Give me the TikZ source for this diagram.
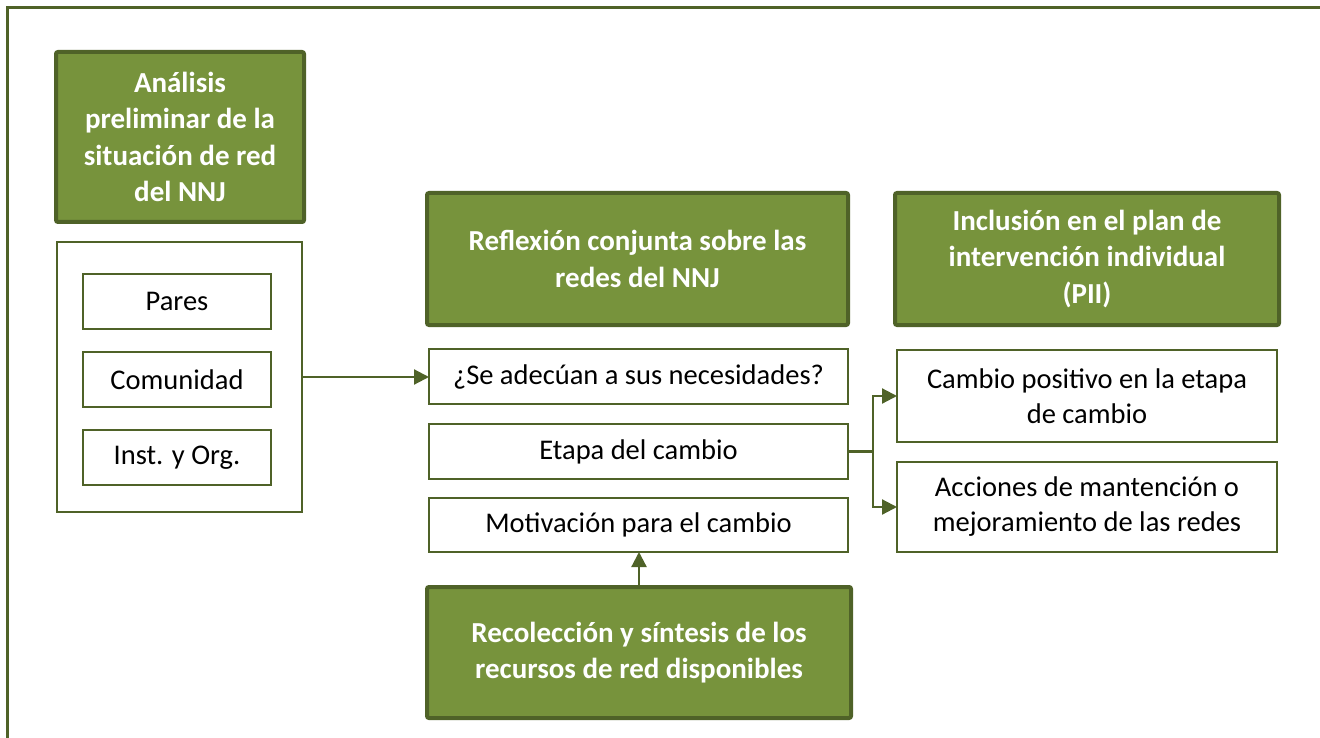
\documentclass[tikz,border=0pt]{standalone}
\usepackage{fontspec}
\setmainfont{Carlito}
\usetikzlibrary{arrows.meta, positioning, calc}
\definecolor{olive}{HTML}{77933C}
\definecolor{darkolive}{HTML}{4F6228}
\tikzset{
  head/.style  = {draw=darkolive, fill=olive, line width=4pt, rounded corners=2pt,
                  align=center, text=white, font=\fontsize{29}{36.5}\selectfont\bfseries,
                  outer sep=0pt, inner sep=2pt},
  item/.style  = {draw=darkolive, fill=white, line width=1.8pt, align=center,
                  font=\fontsize{28.5}{35}\selectfont, outer sep=0pt, inner sep=2pt},
  arr/.style   = {-{Triangle[length=15pt, width=15pt]}, draw=darkolive, line width=2.2pt},
  link/.style  = {draw=darkolive, line width=2.2pt},
  frame/.style = {draw=darkolive, line width=3pt},
  node distance = 20pt and 25pt
}

\begin{document}
\begin{tikzpicture}[x=1pt, y=-1pt]
  \useasboundingbox (0,0) rectangle (1320,738);

  % ── Outer frame ─────────────────────────────────────────────────────────
  \draw[frame] (7,738) -- (7,8) -- (1320,8);

  % ── Left column: preliminary analysis ───────────────────────────────────
  \node[head, minimum width=248pt, minimum height=170pt] (analisis) at (180,137)
        {Análisis\\ preliminar de la\\ situación de red\\ del NNJ};
  \node[item, minimum width=245pt, minimum height=270pt] (redes) at (179.5,377) {};
  \node[item, minimum width=188pt, minimum height=55pt]  (pares) at (177,301.5) {Pares};
  \node[item, minimum width=188pt, minimum height=55pt, below=23pt of pares] (comunidad) {Comunidad};
  \node[item, minimum width=188pt, minimum height=55pt, below=23pt of comunidad] (inst) {Inst. y Org.};

  % ── Middle column: joint reflection ─────────────────────────────────────
  \node[head, minimum width=421pt, minimum height=132pt] (reflexion) at (637.5,259)
        {Reflexión conjunta sobre las\\ redes del NNJ};
  \node[item, minimum width=419pt, minimum height=55pt] (adecuan) at (638.5,376.5)
        {¿Se adecúan a sus necesidades?};
  \node[item, minimum width=419pt, minimum height=55pt, below=20pt of adecuan] (etapa)
        {Etapa del cambio};
  \node[item, minimum width=419pt, minimum height=54pt, below=19pt of etapa] (motivacion)
        {Motivación para el cambio};
  \node[head, minimum width=424pt, minimum height=131pt] (recoleccion) at (639,652.5)
        {Recolección y síntesis de los\\ recursos de red disponibles};

  % ── Right column: intervention plan ─────────────────────────────────────
  \node[head, minimum width=384pt, minimum height=132pt] (inclusion) at (1087,259)
        {Inclusión en el plan de\\ intervención individual\\ (PII)};
  \node[item, minimum width=380pt, minimum height=92pt] (positivo) at (1087,396)
        {Cambio positivo en la etapa\\ de cambio};
  \node[item, minimum width=380pt, minimum height=90pt, below=20pt of positivo] (acciones)
        {Acciones de mantención o\\ mejoramiento de las redes};

  % ── Connections ─────────────────────────────────────────────────────────
  \draw[arr] (redes.east) -- (redes.east -| adecuan.west);
  \draw[arr] (recoleccion.north) -- (recoleccion.north |- motivacion.south);

  % Etapa → both outcomes
  \coordinate[right=25pt of etapa.east] (split);
  \draw[link] (etapa.east) -- (split);
  \draw[arr] (split) |- (positivo.west);
  \draw[arr] (split) |- (acciones.west);

\end{tikzpicture}
\end{document}
